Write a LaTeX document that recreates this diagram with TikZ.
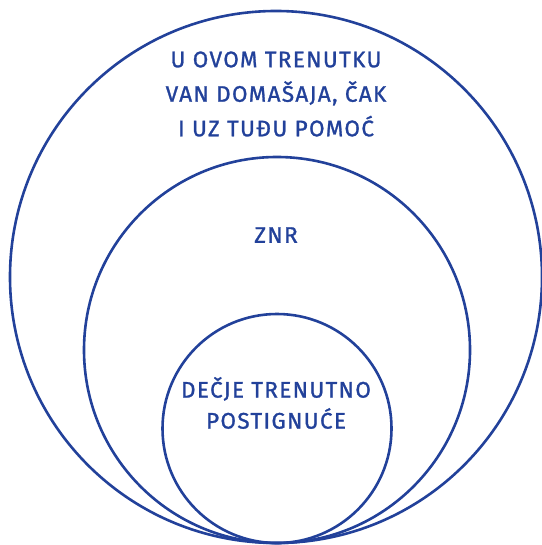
\documentclass[tikz,border=0pt]{standalone}
\usepackage{fontspec}
\setmainfont{Fira Sans}[LetterSpace=6,FakeBold=1.2]
\usepackage{xcolor}
\definecolor{ink}{HTML}{22419A}
\tikzset{
  ring/.style={draw=ink,line width=2.6bp,circle,inner sep=0pt},
  caption/.style={text=ink,align=center,inner sep=0pt,font=\fontsize{22.5bp}{34.5bp}\selectfont},
}

\begin{document}
\begin{tikzpicture}[x=1bp,y=-1bp]
\useasboundingbox (0,0) rectangle (542,545);

\node[ring,minimum size=532bp] (outer) at (276,277) {};
\node[ring,minimum size=386bp] (middle) at (277,350) {};
\node[ring,minimum size=229bp] (inner) at (277,428.5) {};

\node[caption] (farlbl) at (276,94) {U OVOM TRENUTKU\\VAN DOMAŠAJA, ČAK\\I UZ TUĐU POMOĆ};
\node[caption] (znrlbl) at (276,235) {ZNR};
\node[caption,font=\fontsize{22.5bp}{31bp}\selectfont] (nowlbl) at (276,403) {DEČJE TRENUTNO\\POSTIGNUĆE};

\end{tikzpicture}
\end{document}
